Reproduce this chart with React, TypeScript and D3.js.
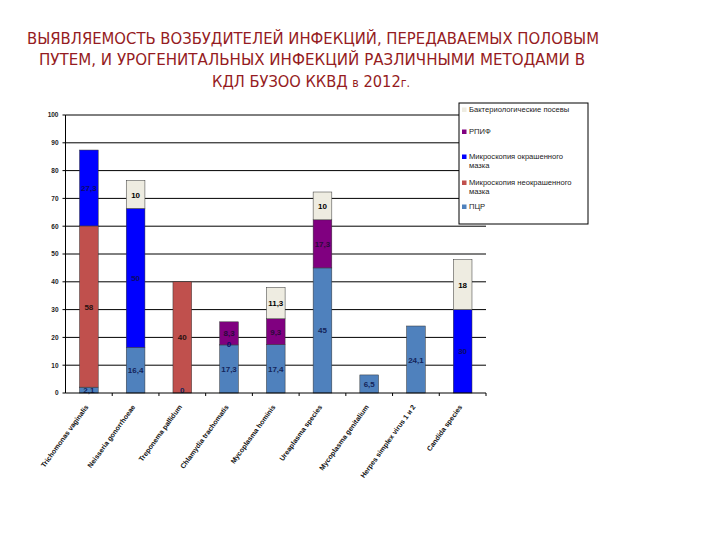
import React from 'react';
import * as d3 from 'd3';

// categories and series values (bottom → top of each stack)
const categories = [
  'Trichomonas vaginalis',
  'Neisseria gonorrhoeae',
  'Treponema pallidum',
  'Chlamydia trachomatis',
  'Mycoplasma hominis',
  'Ureaplasma species',
  'Mycoplasma genitalium',
  'Herpes simplex virus 1 и 2',
  'Candida species',
];

const seriesNames = [
  'ПЦР',
  'Микроскопия неокрашенного мазка',
  'Микроскопия окрашенного мазка',
  'РПИФ',
  'Бактериологические посевы',
];

const pcr = [2.1, 16.4, 0, 17.3, 17.4, 45, 6.5, 24.1, null];
const unstained = [58, null, 40, null, null, null, null, null, null];
const stained = [27.3, 50, null, 0, null, null, null, null, 30];
const rpif = [null, null, null, 8.3, 9.3, 17.3, null, null, null];
const culture = [null, 10, null, null, 11.3, 10, null, null, 18];

const yTicks = [0, 10, 20, 30, 40, 50, 60, 70, 80, 90, 100];

const colors = ['#4f81bd', '#c0504d', '#0000ff', '#800080', '#eeece1'];
const labelColors = ['#14245a', '#2a1010', '#0a0a6a', '#2a0a3a', '#000'];

const titleLines = [
  'ВЫЯВЛЯЕМОСТЬ ВОЗБУДИТЕЛЕЙ ИНФЕКЦИЙ, ПЕРЕДАВАЕМЫХ ПОЛОВЫМ',
  'ПУТЕМ, И УРОГЕНИТАЛЬНЫХ ИНФЕКЦИЙ РАЗЛИЧНЫМИ МЕТОДАМИ В',
];

const fmt = (v: number) => String(v).replace('.', ',');

export default function App() {
  const width = 720;
  const height = 540;
  const left = 65.5;
  const right = 486;
  const top = 115;
  const bottom = 393;

  const x = d3.scaleBand<string>().domain(categories).range([left, right]).paddingInner(0.6).paddingOuter(0.3);
  const step = x.step();
  const y = d3.scaleLinear().domain([0, 100]).range([bottom, top]);

  const all = [pcr, unstained, stained, rpif, culture];
  const table = categories.map((c, i) => {
    const row: Record<string, number | string> = { cat: c };
    seriesNames.forEach((s, k) => (row[s] = all[k][i] ?? 0));
    return row;
  });
  const stacked = d3.stack<Record<string, number | string>>().keys(seriesNames)(table);

  const font = '"Liberation Sans", Arial, sans-serif';
  const legendItems = [...seriesNames].map((n, k) => ({ n, k })).reverse();
  const legendLines: string[][] = [
    ['Бактериологические посевы'],
    ['РПИФ'],
    ['Микроскопия окрашенного', 'мазка'],
    ['Микроскопия неокрашенного', 'мазка'],
    ['ПЦР'],
  ];
  const legendY = [112, 134, 159, 185, 209];

  return (
    <svg width={width} height={height} style={{ position: 'absolute', left: 0, top: 0, background: '#fff' }}>
      {/* title */}
      <g fill="#951b22" fontFamily='"Liberation Sans Narrow", "Arial Narrow", "DejaVu Sans Condensed", sans-serif' fontSize={16}>
        <text x={313} y={44} textAnchor="middle" textLength={572} lengthAdjust="spacingAndGlyphs">{titleLines[0]}</text>
        <text x={312} y={65} textAnchor="middle" textLength={546} lengthAdjust="spacingAndGlyphs">{titleLines[1]}</text>
        <text x={311} y={87} textAnchor="middle" textLength={198} lengthAdjust="spacingAndGlyphs">
          КДЛ БУЗОО ККВД <tspan fontSize={12}>в</tspan> 2012<tspan fontSize={12}>г.</tspan>
        </text>
      </g>

      {/* gridlines */}
      {yTicks.filter((t) => t > 0).map((t) => (
        <line key={t} x1={left} x2={right} y1={y(t)} y2={y(t)} stroke="#000" strokeWidth={1} />
      ))}

      {/* bars */}
      {stacked.map((layer, k) => (
        <g key={layer.key} fill={colors[k]}>
          {layer.map((d, i) =>
            d[1] - d[0] > 0 ? (
              <rect
                key={i}
                x={x(categories[i])}
                width={x.bandwidth()}
                y={y(d[1])}
                height={y(d[0]) - y(d[1])}
                stroke="#333"
                strokeWidth={0.5}
              />
            ) : null
          )}
        </g>
      ))}

      {/* data labels */}
      <g fontFamily={font} fontSize={8} fontWeight="bold" textAnchor="middle">
        {stacked.map((layer, k) =>
          layer.map((d, i) => {
            const v = all[k][i];
            if (v === null || v === undefined) return null;
            const cy = v === 0 ? y(d[0]) - 1 : (y(d[0]) + y(d[1])) / 2;
            const yy = Math.min(cy + 3, bottom);
            return (
              <text key={`${k}-${i}`} x={(x(categories[i]) ?? 0) + x.bandwidth() / 2} y={yy} fill={labelColors[k]}>
                {fmt(v)}
              </text>
            );
          })
        )}
      </g>

      {/* axes */}
      <line x1={left} x2={left} y1={top} y2={bottom} stroke="#000" />
      <line x1={left} x2={right} y1={bottom} y2={bottom} stroke="#000" />
      <g fontFamily={font} fontSize={6.5} fontWeight="bold" fill="#222" textAnchor="end">
        {yTicks.map((t) => (
          <g key={t}>
            <line x1={left - 3} x2={left} y1={y(t)} y2={y(t)} stroke="#000" />
            <text x={left - 7} y={y(t) + 2.3}>{t}</text>
          </g>
        ))}
      </g>
      {categories.map((c, i) => (
        <line key={c} x1={left + step * (i + 1)} x2={left + step * (i + 1)} y1={bottom} y2={bottom + 3} stroke="#000" />
      ))}
      <g fontFamily={font} fontSize={7} fontWeight="bold" fill="#111" textAnchor="end">
        {categories.map((c) => {
          const cx = (x(c) ?? 0) + x.bandwidth() / 2;
          return (
            <text key={c} transform={`translate(${cx},${bottom + 14}) rotate(-54)`}>
              {c}
            </text>
          );
        })}
      </g>

      {/* legend */}
      <rect x={459} y={103} width={129} height={121} fill="#fff" stroke="#000" strokeWidth={1} />
      <g fontFamily={font} fontSize={7.6} fill="#222">
        {legendItems.map(({ n, k }, j) => (
          <g key={n}>
            <rect x={462} y={legendY[j] - 4.5} width={4.5} height={4.5} fill={colors[k]} />
            {legendLines[j].map((l, m) => (
              <text key={m} x={469} y={legendY[j] + m * 9}>{l}</text>
            ))}
          </g>
        ))}
      </g>
    </svg>
  );
}
